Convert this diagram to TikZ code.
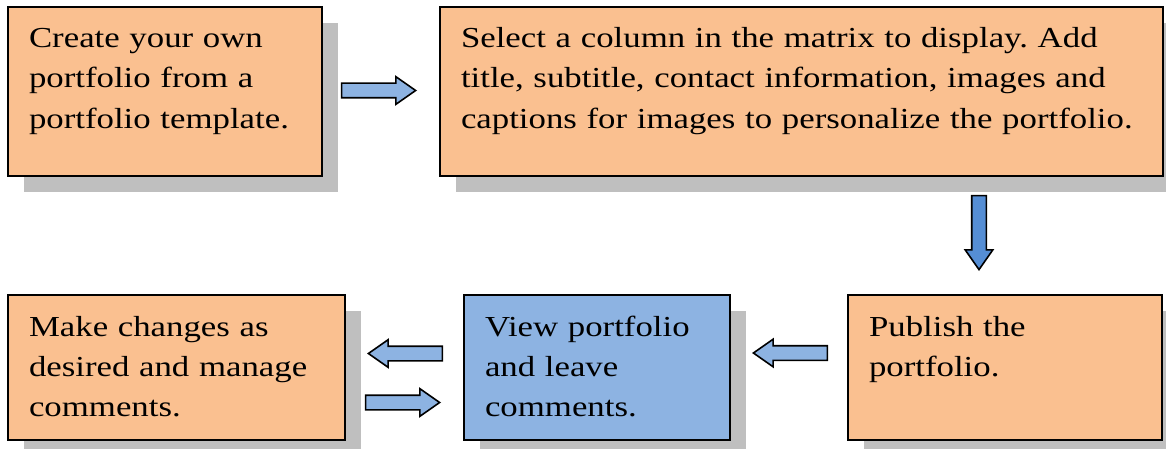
\documentclass[tikz,border=0pt]{standalone}
\usepackage{fontspec}
\setmainfont[FakeStretch=1.2]{Liberation Serif}
\usetikzlibrary{shapes.arrows,shadows}

\definecolor{peach}{HTML}{FAC090}
\definecolor{skyblue}{HTML}{8DB3E2}
\definecolor{deepblue}{HTML}{558ED5}

\frenchspacing
\tikzset{
  stepbox/.style 2 args={draw=black, line width=1pt, fill=peach, anchor=north west,
    align=left, text width=#1, inner xsep=10.5pt, inner ysep=0pt,
    text height=20.5pt, text depth=#2,
    font=\fontsize{14.5}{20}\selectfont,
    drop shadow={shadow xshift=8pt, shadow yshift=-8pt, fill=black!25, opacity=1}},
  blockarrow/.style={single arrow, draw=black, line width=0.8pt, fill=skyblue,
    anchor=tip, minimum height=37pt, inner xsep=0pt, inner ysep=3.25pt,
    single arrow head extend=3.25pt, single arrow tip angle=70}
}

\begin{document}
\begin{tikzpicture}[x=0.5pt,y=-0.5pt]
\useasboundingbox (0,0) rectangle (1166,449);

%% steps
\node[stepbox={136pt}{64pt}] (create) at (7,6)
  {Create your own\\portfolio from a\\portfolio template.};
\node[stepbox={340.5pt}{64pt}] (select) at (439,6)
  {Select a column in the matrix to display. Add\\title, subtitle, contact information, images and\\captions for images to personalize the portfolio.};
\node[stepbox={136pt}{52pt}] (publish) at (847,294)
  {Publish the\\portfolio.};
\node[stepbox={112pt}{52pt}, fill=skyblue] (view) at (463,294)
  {View portfolio\\and leave\\comments.};
\node[stepbox={147.5pt}{52pt}] (revise) at (7,294)
  {Make changes as\\desired and manage\\comments.};

%% arrows (placed by their tips)
\node[blockarrow] (toselect) at (417,90.5) {};                       %% create -> select
\node[blockarrow, fill=deepblue, rotate=-90] (topublish) at (979,271) {}; %% select -> publish
\node[blockarrow, rotate=180] (toview) at (752,353) {};               %% publish -> view
\node[blockarrow, rotate=180] (torevise) at (367,353.5) {};           %% view -> revise
\node[blockarrow] (backtoview) at (441,402.5) {};                     %% revise -> view
\end{tikzpicture}
\end{document}
